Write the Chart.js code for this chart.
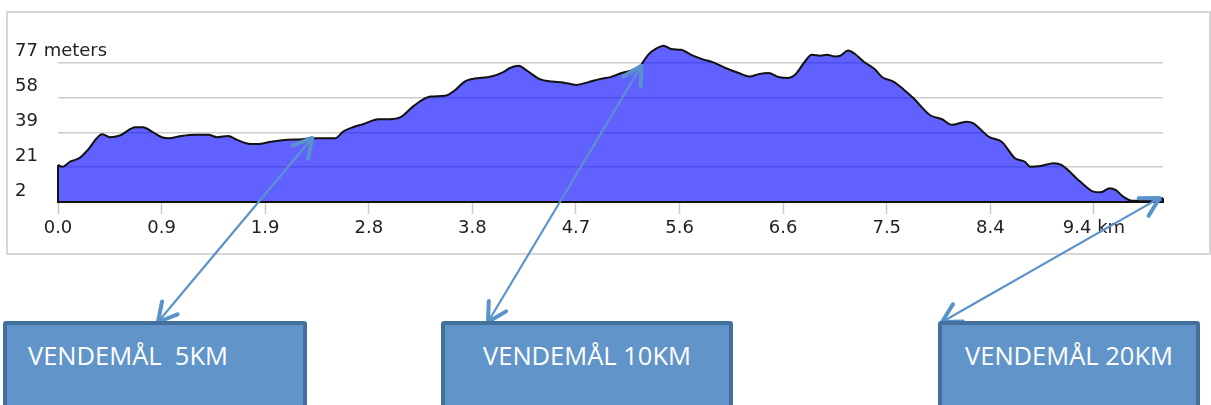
<!DOCTYPE html>
<html>
<head>
<meta charset="utf-8">
<title>Højdeprofil</title>
<script src="https://cdn.jsdelivr.net/npm/chart.js@4.4.1/dist/chart.umd.min.js"></script>
<style>
  html, body { margin: 0; padding: 0; background: #fff; }
  body { width: 1211px; height: 405px; position: relative; overflow: hidden; }
  #frame { position: absolute; left: 6px; top: 11px; width: 1205px; height: 244px; border: 2px solid #d6d6d6; box-sizing: border-box; }
  #c { position: absolute; left: 0; top: 0; }
  .goal { position: absolute; top: 321px; height: 100px; box-sizing: border-box; background: #6195c9; border: 4px solid #44709d; border-radius: 3px; color: #fff; font-family: "Open Sans", sans-serif; font-size: 25.5px; line-height: 30px; padding-top: 15px; white-space: pre; }
</style>
</head>
<body>
<div id="frame"></div>
<canvas id="c" width="1211" height="405"></canvas>
<div class="goal" style="left:3px; width:304px; padding-left:21px;">VENDEMÅL  5KM</div>
<div class="goal" style="left:441px; width:292px; text-align:center;">VENDEMÅL 10KM</div>
<div class="goal" style="left:938px; width:262px; text-align:center;">VENDEMÅL 20KM</div>

<script>
// distance along the route (km) and elevation (m)
const distKm = [0.00, 0.04, 0.11, 0.20, 0.27, 0.40, 0.47, 0.56, 0.70, 0.77, 0.85, 0.94, 1.00, 1.12, 1.24, 1.36, 1.44, 1.54, 1.62, 1.74,
  1.81, 1.93, 2.08, 2.21, 2.30, 2.51, 2.58, 2.67, 2.76, 2.90, 3.00, 3.10, 3.22, 3.37, 3.50, 3.59, 3.68, 3.76, 3.92, 4.03,
  4.09, 4.17, 4.24, 4.36, 4.47, 4.57, 4.69, 4.80, 4.90, 5.00, 5.10, 5.19, 5.27, 5.34, 5.42, 5.48, 5.55, 5.64, 5.73, 5.83,
  5.93, 6.04, 6.16, 6.26, 6.34, 6.43, 6.52, 6.61, 6.67, 6.76, 6.82, 6.90, 6.96, 7.03, 7.08, 7.15, 7.21, 7.29, 7.39, 7.46,
  7.56, 7.65, 7.74, 7.89, 8.00, 8.09, 8.22, 8.28, 8.43, 8.54, 8.66, 8.75, 8.80, 8.89, 9.01, 9.08, 9.25, 9.37, 9.43, 9.52,
  9.57, 9.64, 9.72, 9.82, 9.97, 10.00];
const elevation = [22.0, 21.0, 23.7, 25.9, 30.1, 38.5, 36.9, 37.8, 42.3, 42.3, 39.9, 36.9, 36.4, 37.6, 38.2, 38.2, 36.9, 37.6, 35.5, 33.3,
  33.3, 34.5, 35.5, 35.8, 36.4, 36.4, 39.9, 42.3, 43.9, 46.6, 46.6, 47.7, 53.8, 58.8, 59.2, 62.1, 66.9, 68.4, 69.6, 72.0,
  74.2, 75.4, 72.9, 68.2, 66.9, 66.4, 65.1, 66.6, 68.2, 69.3, 71.5, 72.9, 75.4, 81.3, 84.9, 86.2, 84.4, 84.0, 81.3, 79.0,
  77.2, 74.2, 71.5, 69.6, 70.9, 71.5, 69.3, 68.8, 70.5, 77.7, 81.3, 80.8, 81.3, 80.4, 80.8, 83.6, 81.9, 77.7, 73.6, 69.2,
  66.9, 62.8, 58.0, 48.9, 46.6, 43.6, 45.3, 44.5, 36.9, 34.5, 25.6, 23.7, 21.0, 21.4, 22.9, 22.0, 13.0, 7.6, 7.2, 9.4,
  8.5, 4.9, 2.7, 2.7, 4.0, 4.0];

const xTickValues = [0, 0.9375, 1.875, 2.8125, 3.75, 4.6875, 5.625, 6.5625, 7.5, 8.4375, 9.375];
const xTickLabels = ['0.0', '0.9', '1.9', '2.8', '3.8', '4.7', '5.6', '6.6', '7.5', '8.4', '9.4 km'];
const yTickValues = [2, 20.75, 39.5, 58.25, 77];
const yTickLabels = ['2', '21', '39', '58', '77 meters'];

// turnaround points: where each arrow touches the profile (km, m) and where it meets its box
const goalKm = [2.30, 5.28, 9.97];
const goalElev = [36.5, 75.4, 4.2];
const goalBoxX = [158, 488, 942];
const goalBoxY = 322;

const axisFont = { family: 'DejaVu Sans', size: 18 };

function arrowHead(ctx, tx, ty, fx, fy) {
    const ang = Math.atan2(ty - fy, tx - fx);
    const len = 21, spread = 0.5;
    ctx.beginPath();
    ctx.moveTo(tx - len * Math.cos(ang - spread), ty - len * Math.sin(ang - spread));
    ctx.lineTo(tx, ty);
    ctx.lineTo(tx - len * Math.cos(ang + spread), ty - len * Math.sin(ang + spread));
    ctx.stroke();
}

const profileEdges = {
    id: 'profileEdges',
    afterDatasetsDraw(chart) {
        const ctx = chart.ctx;
        const pts = chart.getDatasetMeta(0).data;
        const area = chart.chartArea;
        ctx.save();
        ctx.strokeStyle = '#111';
        ctx.lineWidth = 2;
        ctx.beginPath();
        ctx.moveTo(pts[0].x, pts[0].y);
        ctx.lineTo(pts[0].x, area.bottom);
        ctx.lineTo(pts[pts.length - 1].x, area.bottom);
        ctx.lineTo(pts[pts.length - 1].x, pts[pts.length - 1].y);
        ctx.stroke();
        ctx.restore();
    }
};

const goalArrows = {
    id: 'goalArrows',
    afterDraw(chart) {
        const ctx = chart.ctx;
        const xs = chart.scales.x, ys = chart.scales.y;
        ctx.save();
        ctx.strokeStyle = '#5a93cc';
        ctx.lineCap = 'round';
        ctx.lineJoin = 'round';
        goalKm.forEach((km, i) => {
            const tx = xs.getPixelForValue(km);
            const ty = ys.getPixelForValue(goalElev[i]);
            const bx = goalBoxX[i], by = goalBoxY;
            ctx.lineWidth = 2.2;
            ctx.beginPath();
            ctx.moveTo(bx, by);
            ctx.lineTo(tx, ty);
            ctx.stroke();
            ctx.lineWidth = 4;
            arrowHead(ctx, tx, ty, bx, by);
            arrowHead(ctx, bx, by, tx, ty);
        });
        ctx.restore();
    }
};

new Chart(document.getElementById('c'), {
    type: 'line',
    data: {
        datasets: [{
            data: distKm.map((d, i) => ({ x: d, y: elevation[i] })),
            borderColor: '#111',
            borderWidth: 2,
            backgroundColor: 'rgba(0, 0, 255, 0.62)',
            fill: 'start',
            pointRadius: 0,
            cubicInterpolationMode: 'monotone'
        }]
    },
    options: {
        responsive: false,
        devicePixelRatio: 1,
        animation: false,
        layout: { padding: { top: 28, left: 15, right: 48, bottom: 0 } },
        plugins: { legend: { display: false }, tooltip: { enabled: false } },
        scales: {
            x: {
                type: 'linear',
                min: 0,
                max: 10,
                afterBuildTicks: s => { s.ticks = xTickValues.map(v => ({ value: v })); },
                afterFit: s => { s.height = 203; },
                grid: { drawOnChartArea: false, drawTicks: true, tickLength: 12, tickColor: '#c8c8c8', tickWidth: 1.5 },
                border: { display: true, color: '#1a1a30', width: 2 },
                ticks: {
                    autoSkip: false,
                    maxRotation: 0,
                    padding: 4,
                    color: '#222',
                    font: axisFont,
                    callback: (v, i) => xTickLabels[i]
                }
            },
            y: {
                min: 2,
                max: 95.75,
                afterBuildTicks: s => { s.ticks = yTickValues.map(v => ({ value: v })); },
                afterFit: s => { s.width = 43; },
                grid: { color: '#cccccc', lineWidth: 1.5, drawTicks: false },
                border: { display: false },
                ticks: {
                    mirror: true,
                    crossAlign: 'near',
                    padding: -43,
                    labelOffset: -11,
                    color: '#222',
                    font: axisFont,
                    callback: (v, i) => yTickLabels[i]
                }
            }
        }
    },
    plugins: [profileEdges, goalArrows]
});
</script>
</body>
</html>
